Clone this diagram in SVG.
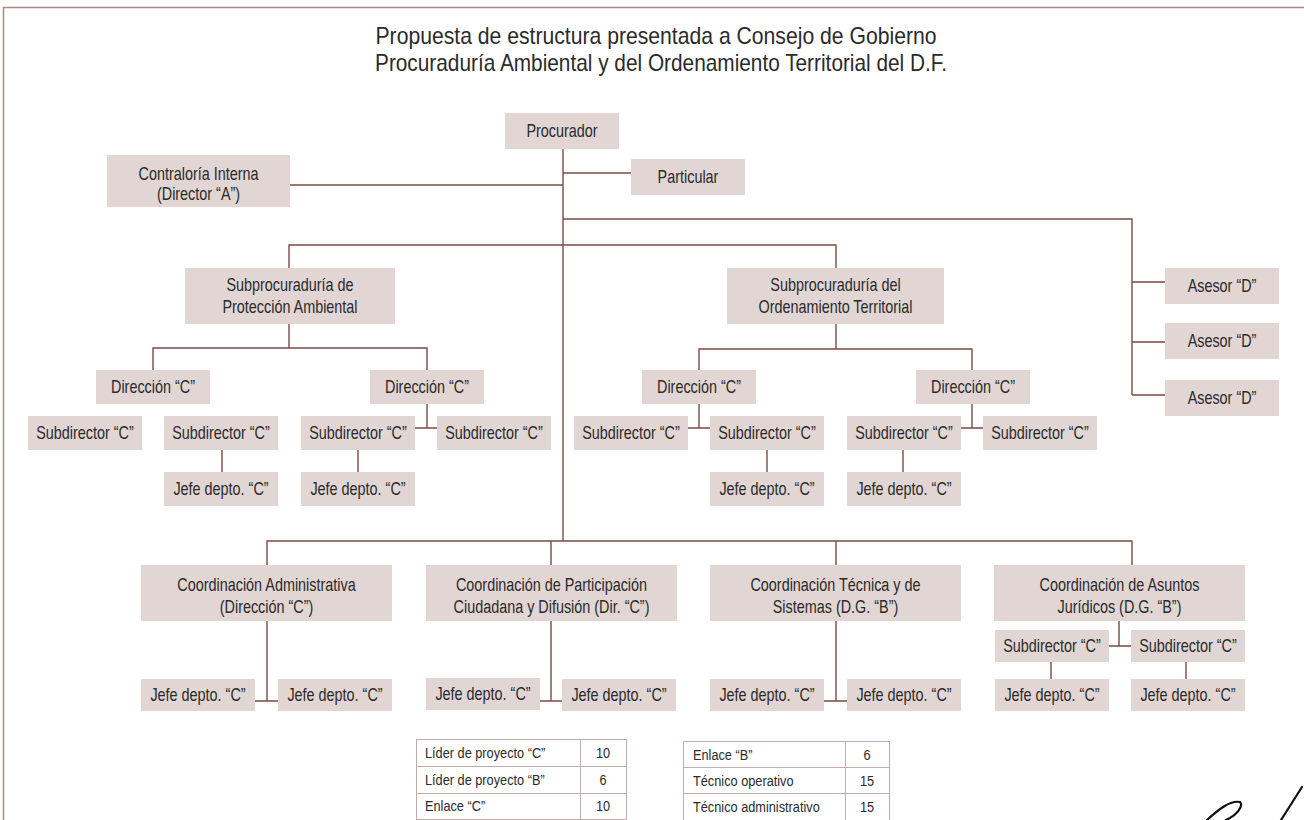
<svg xmlns="http://www.w3.org/2000/svg" width="1304" height="820" viewBox="0 0 1304 820">
<style>
  .bx { fill: #e1d6d3; }
  .t { font-family: "Liberation Sans", Arial, sans-serif; font-size: 18px; fill: #2b2b2b; text-anchor: middle; }
  .title { font-family: "Liberation Sans", Arial, sans-serif; font-size: 24px; fill: #2b2b2b; text-anchor: middle; }
  .tb { font-family: "Liberation Sans", Arial, sans-serif; font-size: 15px; fill: #2b2b2b; }
  .tn { text-anchor: middle; }
  .ln { fill: none; stroke: #7b4b45; stroke-width: 1.4; }
  .frame { fill: none; stroke: #a68d87; stroke-width: 1.5; }
  .tab { fill: #ffffff; stroke: #c4aaa8; stroke-width: 1; }
</style>
<rect x="0" y="0" width="1304" height="820" fill="#ffffff"/>
<path class="frame" d="M3.5,820 V7.5 H1304"/>

<g id="title">
  <text class="title" x="656" y="44" textLength="561" lengthAdjust="spacingAndGlyphs">Propuesta de estructura presentada a Consejo de Gobierno</text>
  <text class="title" x="661" y="71" textLength="572" lengthAdjust="spacingAndGlyphs">Procuraduría Ambiental y del Ordenamiento Territorial del D.F.</text>
</g>

<g id="connectors">
  <path class="ln" d="M563,149 V541"/>
  <path class="ln" d="M290,185 H563"/>
  <path class="ln" d="M563,173 H631"/>
  <path class="ln" d="M563,219 H1132 V395"/>
  <path class="ln" d="M1132,282 H1165 M1132,342 H1165 M1132,395 H1165"/>
  <path class="ln" d="M289,268 V245 H836 V268"/>
  <path class="ln" d="M289,324 V348 M153,370 V348 H427 V370"/>
  <path class="ln" d="M427,404 V428 M415,428 H437"/>
  <path class="ln" d="M222,450 V472 M358,450 V472"/>
  <path class="ln" d="M836,324 V349 M699,370 V349 H972 V370"/>
  <path class="ln" d="M699,404 V428 M688,428 H710"/>
  <path class="ln" d="M767,450 V472"/>
  <path class="ln" d="M972,404 V428 M961,428 H983"/>
  <path class="ln" d="M903,450 V472"/>
  <path class="ln" d="M267,565 V541 H1132 V565 M551,541 V565 M836,541 V565"/>
  <path class="ln" d="M267,621 V701 M255,701 H278"/>
  <path class="ln" d="M551,621 V701 M540,701 H562"/>
  <path class="ln" d="M836,621 V701 M824,701 H847"/>
  <path class="ln" d="M1119,621 V646 M1109,646 H1131"/>
  <path class="ln" d="M1051,662 V679 M1186,662 V679"/>
</g>

<g id="procurador"><rect class="bx" x="505" y="113" width="114" height="36"/><text class="t" transform="matrix(.8 0 0 1 562 137)">Procurador</text></g>
<g id="contraloria"><rect class="bx" x="107" y="155" width="183" height="52"/><text class="t" transform="matrix(.8 0 0 1 198.5 180)">Contraloría Interna</text><text class="t" transform="matrix(.8 0 0 1 198.5 200)">(Director “A”)</text></g>
<g id="particular"><rect class="bx" x="631" y="159" width="114" height="36"/><text class="t" transform="matrix(.8 0 0 1 688 183)">Particular</text></g>

<g id="sub-pa"><rect class="bx" x="185" y="268" width="210" height="56"/><text class="t" transform="matrix(.8 0 0 1 290 291)">Subprocuraduría de</text><text class="t" transform="matrix(.8 0 0 1 290 313)">Protección Ambiental</text></g>
<g id="sub-ot"><rect class="bx" x="727" y="268" width="217" height="56"/><text class="t" transform="matrix(.8 0 0 1 835.5 291)">Subprocuraduría del</text><text class="t" transform="matrix(.8 0 0 1 835.5 313)">Ordenamiento Territorial</text></g>

<g id="asesor1"><rect class="bx" x="1165" y="268" width="114" height="36"/><text class="t" transform="matrix(.8 0 0 1 1222 292)">Asesor “D”</text></g>
<g id="asesor2"><rect class="bx" x="1165" y="323" width="114" height="36"/><text class="t" transform="matrix(.8 0 0 1 1222 347)">Asesor “D”</text></g>
<g id="asesor3"><rect class="bx" x="1165" y="380" width="114" height="36"/><text class="t" transform="matrix(.8 0 0 1 1222 404)">Asesor “D”</text></g>

<g id="dir1"><rect class="bx" x="96" y="370" width="114" height="34"/><text class="t" transform="matrix(.8 0 0 1 153 393)">Dirección “C”</text></g>
<g id="dir2"><rect class="bx" x="370" y="370" width="114" height="34"/><text class="t" transform="matrix(.8 0 0 1 427 393)">Dirección “C”</text></g>
<g id="dir3"><rect class="bx" x="642" y="370" width="114" height="34"/><text class="t" transform="matrix(.8 0 0 1 699 393)">Dirección “C”</text></g>
<g id="dir4"><rect class="bx" x="916" y="370" width="114" height="34"/><text class="t" transform="matrix(.8 0 0 1 973 393)">Dirección “C”</text></g>

<g id="subdir1"><rect class="bx" x="28" y="416" width="114" height="34"/><text class="t" transform="matrix(.8 0 0 1 85 439)">Subdirector “C”</text></g>
<g id="subdir2"><rect class="bx" x="164" y="416" width="114" height="34"/><text class="t" transform="matrix(.8 0 0 1 221 439)">Subdirector “C”</text></g>
<g id="subdir3"><rect class="bx" x="301" y="416" width="114" height="34"/><text class="t" transform="matrix(.8 0 0 1 358 439)">Subdirector “C”</text></g>
<g id="subdir4"><rect class="bx" x="437" y="416" width="114" height="34"/><text class="t" transform="matrix(.8 0 0 1 494 439)">Subdirector “C”</text></g>
<g id="subdir5"><rect class="bx" x="574" y="416" width="114" height="34"/><text class="t" transform="matrix(.8 0 0 1 631 439)">Subdirector “C”</text></g>
<g id="subdir6"><rect class="bx" x="710" y="416" width="114" height="34"/><text class="t" transform="matrix(.8 0 0 1 767 439)">Subdirector “C”</text></g>
<g id="subdir7"><rect class="bx" x="847" y="416" width="114" height="34"/><text class="t" transform="matrix(.8 0 0 1 904 439)">Subdirector “C”</text></g>
<g id="subdir8"><rect class="bx" x="983" y="416" width="114" height="34"/><text class="t" transform="matrix(.8 0 0 1 1040 439)">Subdirector “C”</text></g>

<g id="jefe1"><rect class="bx" x="164" y="472" width="114" height="34"/><text class="t" transform="matrix(.8 0 0 1 221 495)">Jefe depto. “C”</text></g>
<g id="jefe2"><rect class="bx" x="301" y="472" width="114" height="34"/><text class="t" transform="matrix(.8 0 0 1 358 495)">Jefe depto. “C”</text></g>
<g id="jefe3"><rect class="bx" x="710" y="472" width="114" height="34"/><text class="t" transform="matrix(.8 0 0 1 767 495)">Jefe depto. “C”</text></g>
<g id="jefe4"><rect class="bx" x="847" y="472" width="114" height="34"/><text class="t" transform="matrix(.8 0 0 1 904 495)">Jefe depto. “C”</text></g>

<g id="coord-adm"><rect class="bx" x="141" y="565" width="251" height="56"/><text class="t" transform="matrix(.8 0 0 1 266.5 591)">Coordinación Administrativa</text><text class="t" transform="matrix(.8 0 0 1 266.5 613)">(Dirección “C”)</text></g>
<g id="coord-part"><rect class="bx" x="426" y="565" width="251" height="56"/><text class="t" transform="matrix(.8 0 0 1 551.5 591)">Coordinación de Participación</text><text class="t" transform="matrix(.8 0 0 1 551.5 613)">Ciudadana y Difusión (Dir. “C”)</text></g>
<g id="coord-tec"><rect class="bx" x="710" y="565" width="251" height="56"/><text class="t" transform="matrix(.8 0 0 1 835.5 591)">Coordinación Técnica y de</text><text class="t" transform="matrix(.8 0 0 1 835.5 613)">Sistemas (D.G. “B”)</text></g>
<g id="coord-jur"><rect class="bx" x="994" y="565" width="251" height="56"/><text class="t" transform="matrix(.8 0 0 1 1119.5 591)">Coordinación de Asuntos</text><text class="t" transform="matrix(.8 0 0 1 1119.5 613)">Jurídicos (D.G. “B”)</text></g>

<g id="subdir-j1"><rect class="bx" x="995" y="630" width="114" height="32"/><text class="t" transform="matrix(.8 0 0 1 1052 652)">Subdirector “C”</text></g>
<g id="subdir-j2"><rect class="bx" x="1131" y="630" width="114" height="32"/><text class="t" transform="matrix(.8 0 0 1 1188 652)">Subdirector “C”</text></g>

<g id="jefe5"><rect class="bx" x="141" y="679" width="114" height="32"/><text class="t" transform="matrix(.8 0 0 1 198 701)">Jefe depto. “C”</text></g>
<g id="jefe6"><rect class="bx" x="278" y="679" width="114" height="32"/><text class="t" transform="matrix(.8 0 0 1 335 701)">Jefe depto. “C”</text></g>
<g id="jefe7"><rect class="bx" x="426" y="678" width="114" height="32"/><text class="t" transform="matrix(.8 0 0 1 483 700)">Jefe depto. “C”</text></g>
<g id="jefe8"><rect class="bx" x="562" y="679" width="114" height="32"/><text class="t" transform="matrix(.8 0 0 1 619 701)">Jefe depto. “C”</text></g>
<g id="jefe9"><rect class="bx" x="710" y="679" width="114" height="32"/><text class="t" transform="matrix(.8 0 0 1 767 701)">Jefe depto. “C”</text></g>
<g id="jefe10"><rect class="bx" x="847" y="679" width="114" height="32"/><text class="t" transform="matrix(.8 0 0 1 904 701)">Jefe depto. “C”</text></g>
<g id="jefe11"><rect class="bx" x="995" y="679" width="114" height="32"/><text class="t" transform="matrix(.8 0 0 1 1052 701)">Jefe depto. “C”</text></g>
<g id="jefe12"><rect class="bx" x="1131" y="679" width="114" height="32"/><text class="t" transform="matrix(.8 0 0 1 1188 701)">Jefe depto. “C”</text></g>

<g id="table1">
  <rect class="tab" x="416.5" y="739.5" width="210" height="80"/>
  <path class="tab" d="M416.5,766.5 H626.5 M416.5,793.5 H626.5 M580.5,739.5 V820"/>
  <text class="tb" transform="matrix(.85 0 0 1 425 758)">Líder de proyecto “C”</text>
  <text class="tb tn" transform="matrix(.85 0 0 1 603 758)">10</text>
  <text class="tb" transform="matrix(.85 0 0 1 425 785)">Líder de proyecto “B”</text>
  <text class="tb tn" transform="matrix(.85 0 0 1 603 785)">6</text>
  <text class="tb" transform="matrix(.85 0 0 1 425 811)">Enlace “C”</text>
  <text class="tb tn" transform="matrix(.85 0 0 1 603 811)">10</text>
</g>
<g id="table2">
  <rect class="tab" x="683.5" y="741.5" width="206" height="80"/>
  <path class="tab" d="M683.5,767.5 H889.5 M683.5,793.5 H889.5 M845.5,741.5 V820"/>
  <text class="tb" transform="matrix(.85 0 0 1 693 760)">Enlace “B”</text>
  <text class="tb tn" transform="matrix(.85 0 0 1 867 760)">6</text>
  <text class="tb" transform="matrix(.85 0 0 1 693 786)">Técnico operativo</text>
  <text class="tb tn" transform="matrix(.85 0 0 1 867 786)">15</text>
  <text class="tb" transform="matrix(.85 0 0 1 693 812)">Técnico administrativo</text>
  <text class="tb tn" transform="matrix(.85 0 0 1 867 812)">15</text>
</g>

<g id="signature" fill="none" stroke="#111111" stroke-width="2.2" stroke-linecap="round">
  <path d="M1207,820 C1218,810 1230,800 1240,802 C1244,806 1236,816 1226,820"/>
  <path d="M1281,820 L1302,787"/>
</g>
</svg>
